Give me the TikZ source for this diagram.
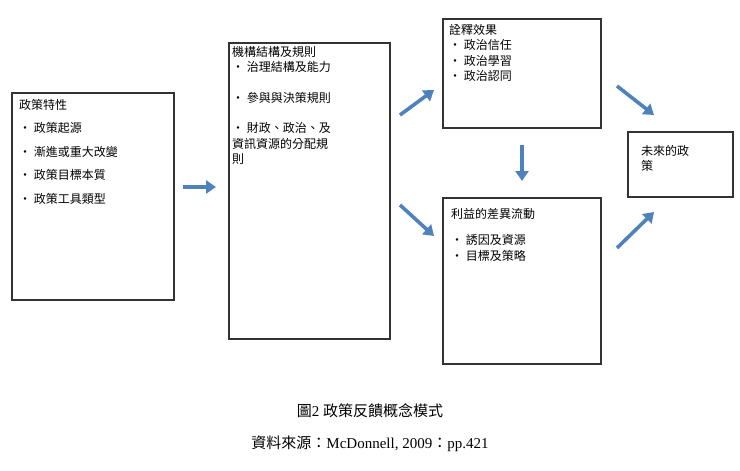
\documentclass[tikz,border=0pt]{standalone}
\usepackage{fontspec}
\setmainfont{Liberation Serif}
\newfontfamily\cjk{Noto Sans CJK TC}
\usetikzlibrary{arrows.meta}
\definecolor{arrblue}{HTML}{4F81BD}
\tikzset{
  box/.style={draw=black!80,line width=1.6pt,fill=white},
  txt/.style={anchor=north west,align=left,inner sep=0pt,font=\cjk\fontsize{12}{15.5}\selectfont},
  fat/.style={draw=arrblue,line width=3.6pt,-{Triangle[length=10pt,width=13pt]}}
}
\begin{document}
\begin{tikzpicture}[x=1pt,y=-1pt]
\useasboundingbox (0,0) rectangle (740,471);
\node[box,minimum width=162pt,minimum height=207pt,anchor=north west] (b1) at (11,92) {};
\node[box,minimum width=161pt,minimum height=296pt,anchor=north west] (b2) at (228,42) {};
\node[box,minimum width=158pt,minimum height=109pt,anchor=north west] (b3) at (442,18) {};
\node[box,minimum width=158pt,minimum height=166pt,anchor=north west] (b4) at (442,197) {};
\node[box,minimum width=105pt,minimum height=65pt,anchor=north west] (b5) at (627,131) {};
\node[txt] (t1) at (19,99) {政策特性\\[8pt] • 政策起源\\[8pt] • 漸進或重大改變\\[8pt] • 政策目標本質\\[8pt] • 政策工具類型};
\node[txt] (t2) at (232,46) {機構結構及規則\\ • 治理結構及能力\\[15pt] • 參與與決策規則\\[15pt] • 財政、政治、及\\資訊資源的分配規\\則};
\node[txt] (t3) at (449,24) {詮釋效果\\ • 政治信任\\ • 政治學習\\ • 政治認同};
\node[txt] (t4) at (451,208) {利益的差異流動\\[11pt] • 誘因及資源\\ • 目標及策略};
\node[txt] (t5) at (641,145) {未來的政\\策};
\coordinate (a1s) at (183,187); \coordinate (a1e) at (216,187);
\coordinate (a2s) at (400,115); \coordinate (a2e) at (434,90);
\coordinate (a3s) at (400,205); \coordinate (a3e) at (434,236);
\coordinate (a4s) at (522,145); \coordinate (a4e) at (522,181);
\coordinate (a5s) at (617,86); \coordinate (a5e) at (654,115);
\coordinate (a6s) at (617,248); \coordinate (a6e) at (654,212);
\draw[fat] (a1s) -- (a1e);
\draw[fat] (a2s) -- (a2e);
\draw[fat] (a3s) -- (a3e);
\draw[fat] (a4s) -- (a4e);
\draw[fat] (a5s) -- (a5e);
\draw[fat] (a6s) -- (a6e);
\node[font=\fontsize{15}{17}\selectfont] (cap) at (370,411) {{\cjk 圖}2 {\cjk 政策反饋概念模式}};
\node[font=\fontsize{15}{17}\selectfont] (src) at (370,444) {{\cjk 資料來源：}McDonnell, 2009{\cjk ：}pp.421};
\end{tikzpicture}
\end{document}
